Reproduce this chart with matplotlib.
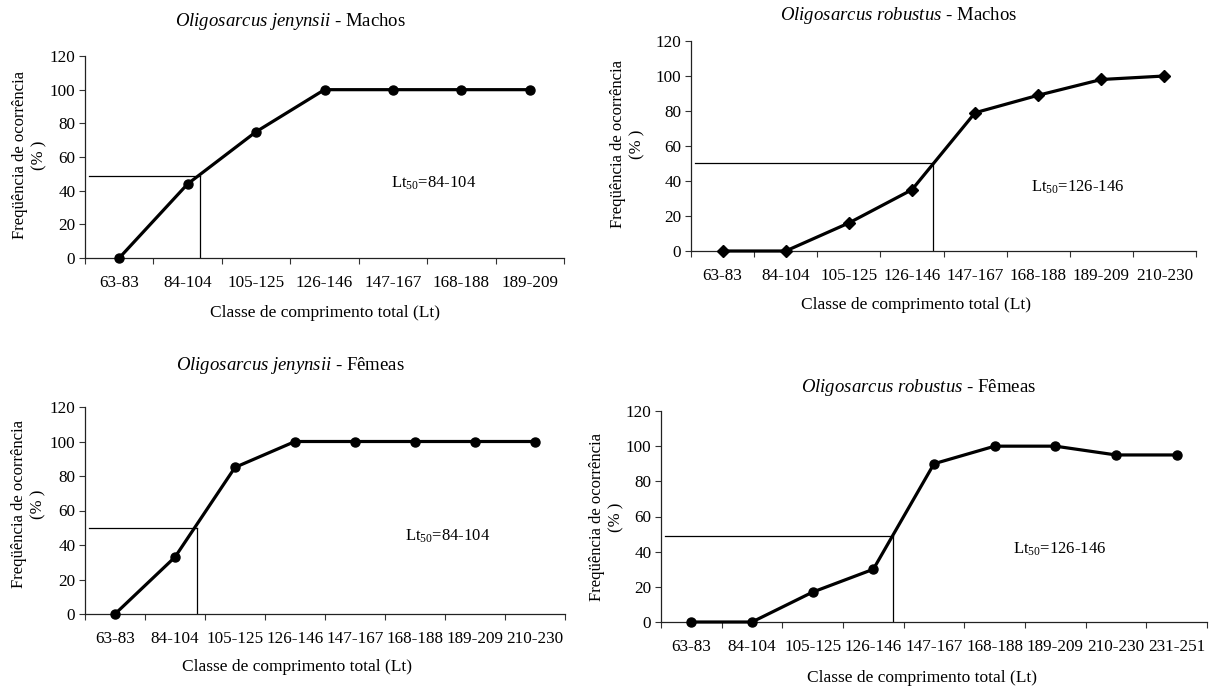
import numpy as np
import matplotlib
matplotlib.use("Agg")
import matplotlib.pyplot as plt

plt.rcParams["font.family"] = ["Liberation Serif", "DejaVu Serif"]
plt.rcParams["mathtext.fontset"] = "custom"
plt.rcParams["mathtext.rm"] = "Liberation Serif"
plt.rcParams["mathtext.it"] = "Liberation Serif:italic"

# length classes (mm)
classes = ["63-83", "84-104", "105-125", "126-146", "147-167",
           "168-188", "189-209", "210-230", "231-251"]

# frequency of mature individuals (%)
jen_machos = [0, 44, 75, 100, 100, 100, 100]
rob_machos = [0, 0, 16, 35, 79, 89, 98, 100]
jen_femeas = [0, 33, 85, 100, 100, 100, 100, 100]
rob_femeas = [0, 0, 17, 30, 90, 100, 100, 95, 95]

# Lt50 guide lines: (class position, %)
lt50_jen_machos = (1.18, 49)
lt50_rob_machos = (3.33, 50)
lt50_jen_femeas = (1.37, 50)
lt50_rob_femeas = (3.33, 49)

lt50_labels = ["84-104", "126-146", "84-104", "126-146"]
species = ["Oligosarcus jenynsii", "Oligosarcus robustus",
           "Oligosarcus jenynsii", "Oligosarcus robustus"]
sexes = ["Machos", "Machos", "Fêmeas", "Fêmeas"]

W, H = 1209, 687
FS_TICK = 12.3
FS_LAB = 12.5
FS_TITLE = 13.5

fig = plt.figure(figsize=(W / 100, H / 100), dpi=100)


def px(x, y):
    return x / W, 1 - y / H


def rect(l, t, r, b):
    return [l / W, 1 - b / H, (r - l) / W, (b - t) / H]


# axes boxes (pixels), text anchors (pixels), Lt50 text position (data)
panels = [
    dict(vals=jen_machos, lt=lt50_jen_machos, box=(85, 56, 564, 258), mk="o",
         title=(290, 21), ylab=(30, 155), xlab=(325, 313), ltxt=(4.6, 44.6)),
    dict(vals=rob_machos, lt=lt50_rob_machos, box=(691, 41, 1196, 251), mk="D",
         title=(899, 15), ylab=(628, 144), xlab=(916, 305), ltxt=(5.63, 36.2)),
    dict(vals=jen_femeas, lt=lt50_jen_femeas, box=(85, 407, 565, 614), mk="o",
         title=(290, 366), ylab=(29, 504), xlab=(297, 667), ltxt=(5.55, 44.9)),
    dict(vals=rob_femeas, lt=lt50_rob_femeas, box=(661, 411, 1207, 622), mk="o",
         title=(919, 387), ylab=(607, 517), xlab=(922, 678), ltxt=(6.07, 41.1)),
]

for i, p in enumerate(panels):
    vals = p["vals"]
    n = len(vals)
    x = np.arange(n)
    ax = fig.add_axes(rect(*p["box"]))

    ms = 6.0 if p["mk"] == "D" else 6.5
    ax.plot(x, vals, "-", marker=p["mk"], color="black", lw=2.3, ms=ms,
            solid_joinstyle="round", clip_on=False, zorder=3)

    lx, ly = p["lt"]
    ax.plot([-0.44, lx], [ly, ly], color="black", lw=0.9, zorder=2)
    ax.plot([lx, lx], [ly, 0], color="black", lw=0.9, zorder=2)

    ax.set_xlim(-0.5, n - 0.5)
    ax.set_ylim(0, 120)
    ax.set_yticks(range(0, 121, 20))
    ax.set_xticks(np.arange(n + 1) - 0.5)
    ax.set_xticklabels([])
    ax.set_xticks(x, minor=True)
    ax.set_xticklabels(classes[:n], minor=True)
    ax.tick_params(axis="x", which="major", direction="out", length=4.5,
                   width=0.8, color="#333333")
    ax.tick_params(axis="x", which="minor", length=0, pad=12,
                   labelsize=FS_TICK)
    ax.tick_params(axis="y", direction="out", length=4, width=0.8,
                   color="#333333", pad=3, labelsize=FS_TICK)
    for s in ("top", "right"):
        ax.spines[s].set_visible(False)
    for s in ("left", "bottom"):
        ax.spines[s].set_linewidth(0.9)
        ax.spines[s].set_color("#222222")
    ax.patch.set_alpha(0)

    tx, tyy = p["ltxt"]
    ax.text(tx, tyy, r"Lt$_\mathregular{50}$=" + lt50_labels[i],
            fontsize=FS_LAB - 0.5, ha="center", va="center")

    sp = species[i].replace(" ", r"\ ")
    fig.text(*px(*p["title"]), r"$\mathit{" + sp + "}$ - " + sexes[i],
             fontsize=FS_TITLE, ha="center", va="center")
    fig.text(*px(*p["ylab"]), "Freqüência de ocorrência\n(% )",
             fontsize=FS_LAB - 0.5, rotation=90, ha="center", va="center",
             multialignment="center", linespacing=1.3)
    fig.text(*px(*p["xlab"]), "Classe de comprimento total (Lt)",
             fontsize=FS_LAB, ha="center", va="center")

fig.savefig("out.png", dpi=100)
